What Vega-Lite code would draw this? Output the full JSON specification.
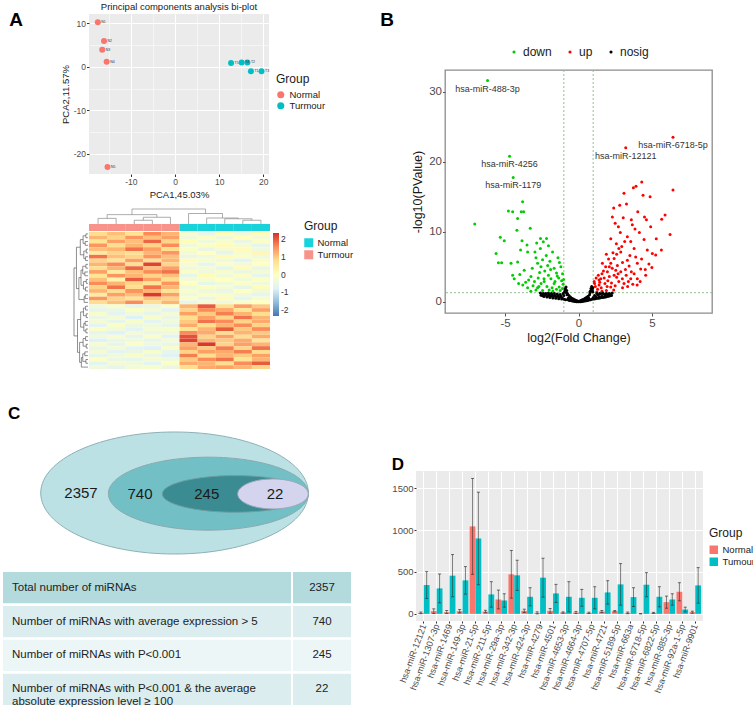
{
"$schema": "https://vega.github.io/schema/vega-lite/v6.json",
"background": "white",
"padding": {"left": 3, "top": 1, "right": 0, "bottom": 0},
"config": {
  "font": "Liberation Sans",
  "view": {"stroke": null},
  "axis": {"domain": false, "labelColor": "#4D4D4D", "tickColor": "#333333", "titleColor": "#1A1A1A", "titleFontWeight": "normal", "grid": false, "labelFont": "Liberation Sans", "titleFont": "Liberation Sans"},
  "legend": {"titleFontWeight": "normal", "titleColor": "#1A1A1A", "labelColor": "#1A1A1A", "titleFont": "Liberation Sans", "labelFont": "Liberation Sans", "layout": {"top": {"anchor": "middle"}}},
  "title": {"color": "#000000", "font": "Liberation Sans"}
},
"datasets": {
  "pca": [
    {"pc1": -17.5, "pc2": 10.2, "Group": "Normal", "id": "N1"},
    {"pc1": -16.1, "pc2": 5.9, "Group": "Normal", "id": "N2"},
    {"pc1": -16.5, "pc2": 3.9, "Group": "Normal", "id": "N3"},
    {"pc1": -15.5, "pc2": 1.15, "Group": "Normal", "id": "N4"},
    {"pc1": -15.3, "pc2": -23.0, "Group": "Normal", "id": "N5"},
    {"pc1": 12.7, "pc2": 0.85, "Group": "Turmour", "id": "T5"},
    {"pc1": 15.1, "pc2": 1.0, "Group": "Turmour", "id": "T4"},
    {"pc1": 16.4, "pc2": 1.0, "Group": "Turmour", "id": "T2"},
    {"pc1": 17.2, "pc2": -1.05, "Group": "Turmour", "id": "T1"},
    {"pc1": 19.6, "pc2": -1.05, "Group": "Turmour", "id": "T3"}
  ],
  "hm": [
    {"r":0,"c":1,"v":0.8},{"r":0,"c":2,"v":1.1},{"r":0,"c":3,"v":0.7},{"r":0,"c":4,"v":1.6},{"r":0,"c":5,"v":1.2},{"r":0,"c":6,"v":-0.2},{"r":0,"c":7,"v":-0.6},{"r":0,"c":8,"v":0.1},{"r":0,"c":9,"v":-0.4},{"r":0,"c":10,"v":0.1},
    {"r":1,"c":1,"v":1.2},{"r":1,"c":2,"v":0.9},{"r":1,"c":3,"v":1.5},{"r":1,"c":4,"v":1.1},{"r":1,"c":5,"v":1.4},{"r":1,"c":6,"v":-0.4},{"r":1,"c":7,"v":-0.1},{"r":1,"c":8,"v":-0.4},{"r":1,"c":9,"v":0.0},{"r":1,"c":10,"v":-0.3},
    {"r":2,"c":1,"v":0.7},{"r":2,"c":2,"v":1.4},{"r":2,"c":3,"v":1.1},{"r":2,"c":4,"v":1.9},{"r":2,"c":5,"v":0.9},{"r":2,"c":6,"v":0.1},{"r":2,"c":7,"v":-0.4},{"r":2,"c":8,"v":-0.2},{"r":2,"c":9,"v":-0.5},{"r":2,"c":10,"v":-0.1},
    {"r":3,"c":1,"v":1.5},{"r":3,"c":2,"v":0.8},{"r":3,"c":3,"v":1.2},{"r":3,"c":4,"v":0.9},{"r":3,"c":5,"v":1.6},{"r":3,"c":6,"v":-0.4},{"r":3,"c":7,"v":-0.1},{"r":3,"c":8,"v":0.1},{"r":3,"c":9,"v":-0.3},{"r":3,"c":10,"v":-0.6},
    {"r":4,"c":1,"v":1.1},{"r":4,"c":2,"v":1.2},{"r":4,"c":3,"v":1.8},{"r":4,"c":4,"v":1.4},{"r":4,"c":5,"v":0.8},{"r":4,"c":6,"v":-0.1},{"r":4,"c":7,"v":-0.5},{"r":4,"c":8,"v":-0.3},{"r":4,"c":9,"v":0.1},{"r":4,"c":10,"v":-0.4},
    {"r":5,"c":1,"v":0.5},{"r":5,"c":2,"v":0.9},{"r":5,"c":3,"v":0.8},{"r":5,"c":4,"v":1.2},{"r":5,"c":5,"v":1.5},{"r":5,"c":6,"v":-0.3},{"r":5,"c":7,"v":0.0},{"r":5,"c":8,"v":-0.6},{"r":5,"c":9,"v":-0.2},{"r":5,"c":10,"v":0.2},
    {"r":6,"c":1,"v":1.8},{"r":6,"c":2,"v":1.1},{"r":6,"c":3,"v":0.9},{"r":6,"c":4,"v":1.5},{"r":6,"c":5,"v":1.1},{"r":6,"c":6,"v":-0.5},{"r":6,"c":7,"v":-0.4},{"r":6,"c":8,"v":0.1},{"r":6,"c":9,"v":-0.1},{"r":6,"c":10,"v":-0.4},
    {"r":7,"c":1,"v":0.9},{"r":7,"c":2,"v":0.7},{"r":7,"c":3,"v":1.4},{"r":7,"c":4,"v":0.8},{"r":7,"c":5,"v":1.2},{"r":7,"c":6,"v":0.1},{"r":7,"c":7,"v":-0.2},{"r":7,"c":8,"v":-0.4},{"r":7,"c":9,"v":-0.7},{"r":7,"c":10,"v":-0.1},
    {"r":8,"c":1,"v":1.2},{"r":8,"c":2,"v":1.6},{"r":8,"c":3,"v":0.8},{"r":8,"c":4,"v":2.2},{"r":8,"c":5,"v":0.9},{"r":8,"c":6,"v":-0.2},{"r":8,"c":7,"v":-0.6},{"r":8,"c":8,"v":-0.1},{"r":8,"c":9,"v":-0.3},{"r":8,"c":10,"v":0.0},
    {"r":9,"c":1,"v":0.8},{"r":9,"c":2,"v":1.2},{"r":9,"c":3,"v":1.9},{"r":9,"c":4,"v":1.1},{"r":9,"c":5,"v":1.4},{"r":9,"c":6,"v":-0.4},{"r":9,"c":7,"v":-0.3},{"r":9,"c":8,"v":-0.6},{"r":9,"c":9,"v":0.1},{"r":9,"c":10,"v":-0.5},
    {"r":10,"c":1,"v":1.4},{"r":10,"c":2,"v":0.5},{"r":10,"c":3,"v":1.1},{"r":10,"c":4,"v":1.6},{"r":10,"c":5,"v":1.8},{"r":10,"c":6,"v":-0.1},{"r":10,"c":7,"v":-0.4},{"r":10,"c":8,"v":-0.2},{"r":10,"c":9,"v":-0.5},{"r":10,"c":10,"v":-0.3},
    {"r":11,"c":1,"v":0.7},{"r":11,"c":2,"v":1.5},{"r":11,"c":3,"v":1.2},{"r":11,"c":4,"v":0.9},{"r":11,"c":5,"v":1.1},{"r":11,"c":6,"v":-0.6},{"r":11,"c":7,"v":0.1},{"r":11,"c":8,"v":-0.4},{"r":11,"c":9,"v":-0.1},{"r":11,"c":10,"v":-0.6},
    {"r":12,"c":1,"v":1.1},{"r":12,"c":2,"v":0.3},{"r":12,"c":3,"v":2.0},{"r":12,"c":4,"v":1.4},{"r":12,"c":5,"v":0.8},{"r":12,"c":6,"v":-0.3},{"r":12,"c":7,"v":-0.2},{"r":12,"c":8,"v":0.0},{"r":12,"c":9,"v":-0.4},{"r":12,"c":10,"v":-0.1},
    {"r":13,"c":1,"v":1.6},{"r":13,"c":2,"v":1.2},{"r":13,"c":3,"v":0.9},{"r":13,"c":4,"v":0.7},{"r":13,"c":5,"v":1.5},{"r":13,"c":6,"v":0.0},{"r":13,"c":7,"v":-0.6},{"r":13,"c":8,"v":-0.4},{"r":13,"c":9,"v":-0.1},{"r":13,"c":10,"v":-0.4},
    {"r":14,"c":1,"v":0.9},{"r":14,"c":2,"v":1.8},{"r":14,"c":3,"v":0.8},{"r":14,"c":4,"v":1.8},{"r":14,"c":5,"v":1.2},{"r":14,"c":6,"v":-0.4},{"r":14,"c":7,"v":-0.1},{"r":14,"c":8,"v":-0.3},{"r":14,"c":9,"v":-0.6},{"r":14,"c":10,"v":0.1},
    {"r":15,"c":1,"v":1.2},{"r":15,"c":2,"v":0.8},{"r":15,"c":3,"v":1.5},{"r":15,"c":4,"v":1.2},{"r":15,"c":5,"v":0.7},{"r":15,"c":6,"v":-0.2},{"r":15,"c":7,"v":-0.4},{"r":15,"c":8,"v":-0.5},{"r":15,"c":9,"v":0.0},{"r":15,"c":10,"v":-0.4},
    {"r":16,"c":1,"v":0.5},{"r":16,"c":2,"v":1.4},{"r":16,"c":3,"v":1.1},{"r":16,"c":4,"v":2.3},{"r":16,"c":5,"v":1.4},{"r":16,"c":6,"v":-0.4},{"r":16,"c":7,"v":-0.1},{"r":16,"c":8,"v":-0.2},{"r":16,"c":9,"v":-0.4},{"r":16,"c":10,"v":-0.6},
    {"r":17,"c":1,"v":1.5},{"r":17,"c":2,"v":0.9},{"r":17,"c":3,"v":0.7},{"r":17,"c":4,"v":1.1},{"r":17,"c":5,"v":0.9},{"r":17,"c":6,"v":-0.1},{"r":17,"c":7,"v":-0.5},{"r":17,"c":8,"v":0.1},{"r":17,"c":9,"v":-0.6},{"r":17,"c":10,"v":-0.2},
    {"r":18,"c":1,"v":0.8},{"r":18,"c":2,"v":1.1},{"r":18,"c":3,"v":1.6},{"r":18,"c":4,"v":0.8},{"r":18,"c":5,"v":1.2},{"r":18,"c":6,"v":-0.6},{"r":18,"c":7,"v":-0.3},{"r":18,"c":8,"v":-0.4},{"r":18,"c":9,"v":-0.1},{"r":18,"c":10,"v":0.0},
    {"r":19,"c":1,"v":-0.4},{"r":19,"c":2,"v":-0.2},{"r":19,"c":3,"v":-0.6},{"r":19,"c":4,"v":-0.5},{"r":19,"c":5,"v":-0.1},{"r":19,"c":6,"v":1.2},{"r":19,"c":7,"v":2.0},{"r":19,"c":8,"v":0.8},{"r":19,"c":9,"v":1.4},{"r":19,"c":10,"v":1.0},
    {"r":20,"c":1,"v":-0.6},{"r":20,"c":2,"v":-0.5},{"r":20,"c":3,"v":-0.1},{"r":20,"c":4,"v":-0.3},{"r":20,"c":5,"v":-0.7},{"r":20,"c":6,"v":0.9},{"r":20,"c":7,"v":1.6},{"r":20,"c":8,"v":1.3},{"r":20,"c":9,"v":0.7},{"r":20,"c":10,"v":1.4},
    {"r":21,"c":1,"v":-0.2},{"r":21,"c":2,"v":-0.7},{"r":21,"c":3,"v":-0.4},{"r":21,"c":4,"v":-0.6},{"r":21,"c":5,"v":-0.3},{"r":21,"c":6,"v":1.4},{"r":21,"c":7,"v":1.0},{"r":21,"c":8,"v":1.7},{"r":21,"c":9,"v":1.2},{"r":21,"c":10,"v":0.8},
    {"r":22,"c":1,"v":-0.5},{"r":22,"c":2,"v":-0.3},{"r":22,"c":3,"v":-0.8},{"r":22,"c":4,"v":-0.2},{"r":22,"c":5,"v":-0.5},{"r":22,"c":6,"v":0.8},{"r":22,"c":7,"v":1.4},{"r":22,"c":8,"v":0.9},{"r":22,"c":9,"v":1.8},{"r":22,"c":10,"v":1.2},
    {"r":23,"c":1,"v":-0.3},{"r":23,"c":2,"v":-0.6},{"r":23,"c":3,"v":-0.2},{"r":23,"c":4,"v":-0.7},{"r":23,"c":5,"v":-0.4},{"r":23,"c":6,"v":1.0},{"r":23,"c":7,"v":1.8},{"r":23,"c":8,"v":1.6},{"r":23,"c":9,"v":0.9},{"r":23,"c":10,"v":1.3},
    {"r":24,"c":1,"v":-0.7},{"r":24,"c":2,"v":-0.1},{"r":24,"c":3,"v":-0.5},{"r":24,"c":4,"v":-0.4},{"r":24,"c":5,"v":-0.6},{"r":24,"c":6,"v":1.3},{"r":24,"c":7,"v":0.8},{"r":24,"c":8,"v":1.2},{"r":24,"c":9,"v":1.6},{"r":24,"c":10,"v":0.9},
    {"r":25,"c":1,"v":-0.1},{"r":25,"c":2,"v":-0.4},{"r":25,"c":3,"v":-0.7},{"r":25,"c":4,"v":-0.3},{"r":25,"c":5,"v":-0.2},{"r":25,"c":6,"v":0.7},{"r":25,"c":7,"v":1.2},{"r":25,"c":8,"v":2.0},{"r":25,"c":9,"v":1.0},{"r":25,"c":10,"v":1.6},
    {"r":26,"c":1,"v":-0.6},{"r":26,"c":2,"v":-0.8},{"r":26,"c":3,"v":-0.3},{"r":26,"c":4,"v":-0.5},{"r":26,"c":5,"v":-0.4},{"r":26,"c":6,"v":1.6},{"r":26,"c":7,"v":1.3},{"r":26,"c":8,"v":0.8},{"r":26,"c":9,"v":1.2},{"r":26,"c":10,"v":1.0},
    {"r":27,"c":1,"v":-0.4},{"r":27,"c":2,"v":-0.2},{"r":27,"c":3,"v":-0.6},{"r":27,"c":4,"v":-0.1},{"r":27,"c":5,"v":-0.7},{"r":27,"c":6,"v":2.1},{"r":27,"c":7,"v":0.9},{"r":27,"c":8,"v":1.4},{"r":27,"c":9,"v":0.8},{"r":27,"c":10,"v":1.3},
    {"r":28,"c":1,"v":-0.8},{"r":28,"c":2,"v":-0.5},{"r":28,"c":3,"v":-0.4},{"r":28,"c":4,"v":-0.6},{"r":28,"c":5,"v":-0.3},{"r":28,"c":6,"v":2.2},{"r":28,"c":7,"v":1.2},{"r":28,"c":8,"v":1.0},{"r":28,"c":9,"v":1.3},{"r":28,"c":10,"v":0.7},
    {"r":29,"c":1,"v":-0.2},{"r":29,"c":2,"v":-0.6},{"r":29,"c":3,"v":-0.1},{"r":29,"c":4,"v":-0.4},{"r":29,"c":5,"v":-0.5},{"r":29,"c":6,"v":1.2},{"r":29,"c":7,"v":2.3},{"r":29,"c":8,"v":0.9},{"r":29,"c":9,"v":1.4},{"r":29,"c":10,"v":1.2},
    {"r":30,"c":1,"v":-0.5},{"r":30,"c":2,"v":-0.3},{"r":30,"c":3,"v":-0.7},{"r":30,"c":4,"v":-0.8},{"r":30,"c":5,"v":-0.2},{"r":30,"c":6,"v":1.4},{"r":30,"c":7,"v":1.0},{"r":30,"c":8,"v":1.7},{"r":30,"c":9,"v":0.9},{"r":30,"c":10,"v":1.8},
    {"r":31,"c":1,"v":-0.3},{"r":31,"c":2,"v":-0.7},{"r":31,"c":3,"v":-0.5},{"r":31,"c":4,"v":-0.2},{"r":31,"c":5,"v":-0.6},{"r":31,"c":6,"v":0.9},{"r":31,"c":7,"v":1.4},{"r":31,"c":8,"v":1.3},{"r":31,"c":9,"v":1.7},{"r":31,"c":10,"v":0.8},
    {"r":32,"c":1,"v":-0.6},{"r":32,"c":2,"v":-0.4},{"r":32,"c":3,"v":-0.2},{"r":32,"c":4,"v":-0.5},{"r":32,"c":5,"v":-0.8},{"r":32,"c":6,"v":1.7},{"r":32,"c":7,"v":0.8},{"r":32,"c":8,"v":1.2},{"r":32,"c":9,"v":1.0},{"r":32,"c":10,"v":1.4},
    {"r":33,"c":1,"v":-0.1},{"r":33,"c":2,"v":-0.5},{"r":33,"c":3,"v":-0.6},{"r":33,"c":4,"v":-0.3},{"r":33,"c":5,"v":-0.4},{"r":33,"c":6,"v":1.0},{"r":33,"c":7,"v":1.6},{"r":33,"c":8,"v":1.8},{"r":33,"c":9,"v":0.7},{"r":33,"c":10,"v":1.2},
    {"r":34,"c":1,"v":-0.7},{"r":34,"c":2,"v":-0.3},{"r":34,"c":3,"v":-0.4},{"r":34,"c":4,"v":-0.7},{"r":34,"c":5,"v":-0.1},{"r":34,"c":6,"v":1.3},{"r":34,"c":7,"v":1.2},{"r":34,"c":8,"v":0.8},{"r":34,"c":9,"v":1.6},{"r":34,"c":10,"v":2.0},
    {"r":35,"c":1,"v":-0.4},{"r":35,"c":2,"v":-0.6},{"r":35,"c":3,"v":-0.3},{"r":35,"c":4,"v":-0.2},{"r":35,"c":5,"v":-0.5},{"r":35,"c":6,"v":0.8},{"r":35,"c":7,"v":1.3},{"r":35,"c":8,"v":1.4},{"r":35,"c":9,"v":1.2},{"r":35,"c":10,"v":0.9}
  ],
  "ann": [
    {"c":1,"grp":"Turmour"},{"c":2,"grp":"Turmour"},{"c":3,"grp":"Turmour"},{"c":4,"grp":"Turmour"},{"c":5,"grp":"Turmour"},
    {"c":6,"grp":"Normal"},{"c":7,"grp":"Normal"},{"c":8,"grp":"Normal"},{"c":9,"grp":"Normal"},{"c":10,"grp":"Normal"}
  ],
  "dtop": [
    {"xa":0.5,"xb":1.5,"h":1.5,"ha":0,"hb":0},
    {"xa":2.5,"xb":3.5,"h":1.0,"ha":0,"hb":0},
    {"xa":3.0,"xb":4.5,"h":1.8,"ha":1.0,"hb":0},
    {"xa":1.0,"xb":3.75,"h":2.5,"ha":1.5,"hb":1.8},
    {"xa":8.5,"xb":9.5,"h":1.0,"ha":0,"hb":0},
    {"xa":7.5,"xb":9.0,"h":1.4,"ha":0,"hb":1.0},
    {"xa":6.5,"xb":8.25,"h":1.6,"ha":0,"hb":1.4},
    {"xa":5.5,"xb":7.375,"h":2.8,"ha":0,"hb":1.6},
    {"xa":2.375,"xb":6.44,"h":4.0,"ha":2.5,"hb":2.8}
  ],
  "dleft": [
    {"a":0.5,"b":1.5,"h":0.6,"ha":0,"hb":0},
    {"a":2.5,"b":3.5,"h":0.8,"ha":0,"hb":0},
    {"a":4.5,"b":5.5,"h":0.5,"ha":0,"hb":0},
    {"a":6.5,"b":7.5,"h":0.7,"ha":0,"hb":0},
    {"a":8.5,"b":9.5,"h":0.6,"ha":0,"hb":0},
    {"a":10.5,"b":11.5,"h":0.9,"ha":0,"hb":0},
    {"a":12.5,"b":13.5,"h":0.5,"ha":0,"hb":0},
    {"a":14.5,"b":15.5,"h":0.7,"ha":0,"hb":0},
    {"a":16.5,"b":17.5,"h":0.8,"ha":0,"hb":0},
    {"a":1.0,"b":3.0,"h":1.4,"ha":0.6,"hb":0.8},
    {"a":5.0,"b":7.0,"h":1.2,"ha":0.5,"hb":0.7},
    {"a":9.0,"b":11.0,"h":1.5,"ha":0.6,"hb":0.9},
    {"a":13.0,"b":15.0,"h":1.3,"ha":0.5,"hb":0.7},
    {"a":17.0,"b":18.5,"h":1.1,"ha":0.8,"hb":0},
    {"a":2.0,"b":6.0,"h":2.2,"ha":1.4,"hb":1.2},
    {"a":10.0,"b":14.0,"h":2.0,"ha":1.5,"hb":1.3},
    {"a":12.0,"b":17.75,"h":2.6,"ha":2.0,"hb":1.1},
    {"a":4.0,"b":14.875,"h":3.3,"ha":2.2,"hb":2.6},
    {"a":19.5,"b":20.5,"h":0.7,"ha":0,"hb":0},
    {"a":21.5,"b":22.5,"h":0.5,"ha":0,"hb":0},
    {"a":23.5,"b":24.5,"h":0.8,"ha":0,"hb":0},
    {"a":25.5,"b":26.5,"h":0.6,"ha":0,"hb":0},
    {"a":27.5,"b":28.5,"h":0.7,"ha":0,"hb":0},
    {"a":29.5,"b":30.5,"h":0.5,"ha":0,"hb":0},
    {"a":31.5,"b":32.5,"h":0.9,"ha":0,"hb":0},
    {"a":33.5,"b":34.5,"h":0.6,"ha":0,"hb":0},
    {"a":20.0,"b":22.0,"h":1.3,"ha":0.7,"hb":0.5},
    {"a":24.0,"b":26.0,"h":1.2,"ha":0.8,"hb":0.6},
    {"a":28.0,"b":30.0,"h":1.4,"ha":0.7,"hb":0.5},
    {"a":32.0,"b":34.0,"h":1.5,"ha":0.9,"hb":0.6},
    {"a":33.0,"b":35.5,"h":1.9,"ha":1.5,"hb":0},
    {"a":21.0,"b":25.0,"h":2.1,"ha":1.3,"hb":1.2},
    {"a":29.0,"b":34.25,"h":2.4,"ha":1.4,"hb":1.9},
    {"a":23.0,"b":31.625,"h":3.0,"ha":2.1,"hb":2.4},
    {"a":9.44,"b":27.31,"h":4.0,"ha":3.3,"hb":3.0}
  ],
  "volcano": [
    {"x":-6.2,"y":31.6,"g":"down","lab":"hsa-miR-488-3p"},{"x":-4.7,"y":20.8,"g":"down","lab":"hsa-miR-4256"},{"x":-4.45,"y":17.75,"g":"down","lab":"hsa-miR-1179"},
    {"x":-7.07,"y":11.1,"g":"down"},{"x":-3.81,"y":14.3,"g":"down"},{"x":-4.78,"y":12.95,"g":"down"},{"x":-4.49,"y":12.86,"g":"down"},{"x":-3.9,"y":12.86,"g":"down"},{"x":-3.74,"y":12.86,"g":"down"},{"x":-4.15,"y":11.9,"g":"down"},{"x":-3.29,"y":10.5,"g":"down"},{"x":-4.2,"y":10.2,"g":"down"},{"x":-5.33,"y":9.2,"g":"down"},{"x":-5.06,"y":8.7,"g":"down"},{"x":-3.85,"y":8.7,"g":"down"},{"x":-3.51,"y":8.1,"g":"down"},{"x":-2.59,"y":9.05,"g":"down"},{"x":-2.18,"y":9.05,"g":"down"},{"x":-2.4,"y":8.57,"g":"down"},{"x":-5.62,"y":6.9,"g":"down"},{"x":-5.46,"y":5.57,"g":"down"},{"x":-5.24,"y":5.57,"g":"down"},{"x":-4.6,"y":5.5,"g":"down"},{"x":-3.47,"y":7.1,"g":"down"},{"x":-2.97,"y":7.1,"g":"down"},{"x":-1.77,"y":7.1,"g":"down"},{"x":-4.15,"y":5.7,"g":"down"},{"x":-4.49,"y":3.8,"g":"down"},{"x":-4.38,"y":3.3,"g":"down"},{"x":-4.08,"y":2.6,"g":"down"},{"x":-3.7,"y":4.5,"g":"down"},{"x":-3.24,"y":3.6,"g":"down"},{"x":-2.79,"y":5.5,"g":"down"},{"x":-2.56,"y":5.0,"g":"down"},{"x":-2.1,"y":5.2,"g":"down"},{"x":-1.66,"y":4.8,"g":"down"},{"x":-1.2,"y":5.0,"g":"down"},{"x":-1.09,"y":4.0,"g":"down"},{"x":-3.0,"y":2.9,"g":"down"},{"x":-2.79,"y":2.0,"g":"down"},{"x":-2.34,"y":2.9,"g":"down"},{"x":-1.88,"y":3.3,"g":"down"},{"x":-1.66,"y":2.6,"g":"down"},{"x":-1.32,"y":2.1,"g":"down"},{"x":-3.47,"y":2.0,"g":"down"},{"x":-3.8,"y":2.4,"g":"down"},
    {"x":-2.9,"y":6.3,"g":"down"},{"x":-2.45,"y":6.0,"g":"down"},{"x":-2.2,"y":6.6,"g":"down"},{"x":-1.95,"y":5.8,"g":"down"},{"x":-2.65,"y":4.2,"g":"down"},{"x":-2.3,"y":4.4,"g":"down"},{"x":-1.5,"y":4.1,"g":"down"},{"x":-1.35,"y":3.4,"g":"down"},{"x":-1.15,"y":3.0,"g":"down"},{"x":-1.05,"y":2.5,"g":"down"},{"x":-2.05,"y":3.8,"g":"down"},{"x":-2.75,"y":3.4,"g":"down"},{"x":-3.4,"y":3.1,"g":"down"},{"x":-3.1,"y":2.3,"g":"down"},{"x":-2.55,"y":2.6,"g":"down"},{"x":-2.15,"y":2.2,"g":"down"},{"x":-1.8,"y":2.0,"g":"down"},{"x":-1.5,"y":1.8,"g":"down"},{"x":-1.25,"y":1.6,"g":"down"},{"x":-2.45,"y":1.6,"g":"down"},{"x":-2.9,"y":1.7,"g":"down"},{"x":-3.25,"y":1.5,"g":"down"},{"x":-1.75,"y":1.5,"g":"down"},{"x":-1.1,"y":1.9,"g":"down"},{"x":-1.6,"y":2.9,"g":"down"},{"x":-2.0,"y":1.7,"g":"down"},{"x":-3.6,"y":2.8,"g":"down"},{"x":-4.0,"y":3.9,"g":"down"},{"x":-3.95,"y":7.4,"g":"down"},{"x":-2.05,"y":8.0,"g":"down"},{"x":-1.3,"y":5.6,"g":"down"},{"x":-1.4,"y":6.3,"g":"down"},{"x":-2.6,"y":7.6,"g":"down"},{"x":-3.15,"y":4.8,"g":"down"},{"x":-2.85,"y":8.4,"g":"down"},{"x":-1.9,"y":4.6,"g":"down"},{"x":-1.45,"y":3.7,"g":"down"},{"x":-1.02,"y":3.2,"g":"down"},{"x":-2.35,"y":3.3,"g":"down"},{"x":-2.7,"y":2.2,"g":"down"},
    {"x":6.44,"y":23.5,"g":"up","lab":"hsa-miR-6718-5p"},{"x":3.22,"y":22.0,"g":"up","lab":"hsa-miR-12121"},
    {"x":3.74,"y":16.3,"g":"up"},{"x":3.92,"y":16.5,"g":"up"},{"x":4.31,"y":17.1,"g":"up"},{"x":6.44,"y":15.95,"g":"up"},{"x":3.1,"y":15.5,"g":"up"},{"x":4.4,"y":15.2,"g":"up"},{"x":4.88,"y":15.0,"g":"up"},{"x":3.27,"y":13.95,"g":"up"},{"x":2.81,"y":13.8,"g":"up"},{"x":2.31,"y":12.1,"g":"up"},{"x":4.04,"y":12.86,"g":"up"},{"x":4.5,"y":12.1,"g":"up"},{"x":4.63,"y":11.7,"g":"up"},{"x":3.6,"y":11.7,"g":"up"},{"x":3.67,"y":11.0,"g":"up"},{"x":2.72,"y":10.7,"g":"up"},{"x":4.92,"y":10.7,"g":"up"},{"x":5.67,"y":11.8,"g":"up"},{"x":5.9,"y":12.4,"g":"up"},{"x":6.24,"y":9.6,"g":"up"},{"x":3.33,"y":9.3,"g":"up"},{"x":3.15,"y":8.6,"g":"up"},{"x":3.56,"y":8.6,"g":"up"},{"x":4.47,"y":8.9,"g":"up"},{"x":2.58,"y":8.3,"g":"up"},{"x":3.79,"y":7.6,"g":"up"},{"x":4.69,"y":7.4,"g":"up"},{"x":5.65,"y":7.4,"g":"up"},{"x":5.03,"y":6.9,"g":"up"},{"x":5.26,"y":6.7,"g":"up"},{"x":4.01,"y":5.5,"g":"up"},{"x":4.24,"y":4.7,"g":"up"},{"x":3.33,"y":5.95,"g":"up"},{"x":2.88,"y":7.1,"g":"up"},{"x":2.43,"y":6.2,"g":"up"},{"x":2.2,"y":5.5,"g":"up"},{"x":1.63,"y":5.5,"g":"up"},{"x":1.97,"y":4.3,"g":"up"},{"x":1.52,"y":3.3,"g":"up"},{"x":2.43,"y":3.8,"g":"up"},{"x":2.88,"y":4.3,"g":"up"},{"x":3.56,"y":3.3,"g":"up"},{"x":4.01,"y":3.3,"g":"up"},{"x":1.07,"y":2.9,"g":"up"},{"x":1.4,"y":2.4,"g":"up"},{"x":2.2,"y":2.1,"g":"up"},{"x":3.1,"y":2.6,"g":"up"},{"x":2.65,"y":5.2,"g":"up"},{"x":2.54,"y":4.5,"g":"up"},{"x":2.99,"y":3.3,"g":"up"},{"x":3.79,"y":4.0,"g":"up"},{"x":4.58,"y":3.8,"g":"up"},
    {"x":2.75,"y":7.6,"g":"up"},{"x":2.95,"y":7.9,"g":"up"},{"x":2.6,"y":6.8,"g":"up"},{"x":2.35,"y":7.0,"g":"up"},{"x":2.05,"y":6.1,"g":"up"},{"x":1.85,"y":5.0,"g":"up"},{"x":1.7,"y":4.4,"g":"up"},{"x":1.35,"y":3.8,"g":"up"},{"x":1.2,"y":3.4,"g":"up"},{"x":1.15,"y":2.2,"g":"up"},{"x":1.3,"y":1.8,"g":"up"},{"x":1.55,"y":2.0,"g":"up"},{"x":1.8,"y":2.6,"g":"up"},{"x":2.0,"y":3.0,"g":"up"},{"x":2.25,"y":2.7,"g":"up"},{"x":2.5,"y":2.3,"g":"up"},{"x":2.75,"y":2.9,"g":"up"},{"x":3.0,"y":2.0,"g":"up"},{"x":3.35,"y":2.2,"g":"up"},{"x":3.7,"y":2.5,"g":"up"},{"x":4.2,"y":2.9,"g":"up"},{"x":1.9,"y":1.6,"g":"up"},{"x":2.4,"y":1.7,"g":"up"},{"x":1.6,"y":1.5,"g":"up"},{"x":1.25,"y":1.4,"g":"up"},{"x":2.1,"y":3.6,"g":"up"},{"x":2.3,"y":4.8,"g":"up"},{"x":2.7,"y":4.0,"g":"up"},{"x":3.2,"y":4.6,"g":"up"},{"x":3.45,"y":5.1,"g":"up"},{"x":3.0,"y":5.6,"g":"up"},{"x":2.1,"y":5.0,"g":"up"},{"x":1.75,"y":3.4,"g":"up"},{"x":1.45,"y":2.8,"g":"up"},{"x":3.9,"y":6.4,"g":"up"},{"x":4.3,"y":6.1,"g":"up"},{"x":4.55,"y":4.6,"g":"up"},{"x":3.5,"y":6.6,"g":"up"},{"x":2.85,"y":9.9,"g":"up"},{"x":3.05,"y":12.0,"g":"up"},{"x":2.5,"y":11.2,"g":"up"},{"x":3.85,"y":10.4,"g":"up"},{"x":4.15,"y":9.9,"g":"up"},{"x":5.3,"y":9.0,"g":"up"},{"x":4.8,"y":5.4,"g":"up"},{"x":5.0,"y":4.9,"g":"up"},{"x":3.25,"y":3.8,"g":"up"},{"x":3.6,"y":4.3,"g":"up"},{"x":1.95,"y":2.2,"g":"up"},{"x":2.6,"y":3.5,"g":"up"},{"x":4.0,"y":2.4,"g":"up"},{"x":3.4,"y":2.9,"g":"up"},{"x":1.1,"y":2.6,"g":"up"},{"x":1.4,"y":3.1,"g":"up"},{"x":1.6,"y":4.0,"g":"up"},{"x":1.9,"y":6.8,"g":"up"},{"x":2.2,"y":9.0,"g":"up"},{"x":2.4,"y":13.4,"g":"up"},
    {"x":-2.6,"y":1.25,"g":"nosig"},{"x":-2.5,"y":1.1,"g":"nosig"},{"x":-2.4,"y":1.2,"g":"nosig"},{"x":-2.3,"y":0.95,"g":"nosig"},{"x":-2.2,"y":1.1,"g":"nosig"},{"x":-2.1,"y":0.85,"g":"nosig"},{"x":-2.0,"y":1.0,"g":"nosig"},{"x":-1.9,"y":0.8,"g":"nosig"},{"x":-1.8,"y":1.0,"g":"nosig"},{"x":-1.7,"y":0.75,"g":"nosig"},{"x":-1.6,"y":0.9,"g":"nosig"},{"x":-1.5,"y":0.7,"g":"nosig"},{"x":-1.4,"y":0.85,"g":"nosig"},{"x":-1.3,"y":0.6,"g":"nosig"},{"x":-1.2,"y":0.8,"g":"nosig"},{"x":-1.1,"y":0.55,"g":"nosig"},{"x":-1.0,"y":0.9,"g":"nosig"},{"x":-0.95,"y":1.4,"g":"nosig"},{"x":-0.9,"y":1.9,"g":"nosig"},{"x":-0.85,"y":2.1,"g":"nosig"},{"x":-0.8,"y":1.6,"g":"nosig"},{"x":-0.75,"y":1.2,"g":"nosig"},{"x":-0.7,"y":0.5,"g":"nosig"},{"x":-0.65,"y":0.9,"g":"nosig"},{"x":-0.6,"y":0.4,"g":"nosig"},{"x":-0.55,"y":0.7,"g":"nosig"},{"x":-0.5,"y":0.3,"g":"nosig"},{"x":-0.45,"y":0.5,"g":"nosig"},{"x":-0.4,"y":0.25,"g":"nosig"},{"x":-0.35,"y":0.4,"g":"nosig"},{"x":-0.3,"y":0.15,"g":"nosig"},{"x":-0.25,"y":0.3,"g":"nosig"},{"x":-0.2,"y":0.1,"g":"nosig"},{"x":-0.15,"y":0.2,"g":"nosig"},{"x":-0.1,"y":0.05,"g":"nosig"},{"x":-0.05,"y":0.1,"g":"nosig"},{"x":0.0,"y":0.02,"g":"nosig"},{"x":0.05,"y":0.08,"g":"nosig"},{"x":0.1,"y":0.05,"g":"nosig"},{"x":0.15,"y":0.18,"g":"nosig"},{"x":0.2,"y":0.1,"g":"nosig"},{"x":0.25,"y":0.28,"g":"nosig"},{"x":0.3,"y":0.15,"g":"nosig"},{"x":0.35,"y":0.38,"g":"nosig"},{"x":0.4,"y":0.22,"g":"nosig"},{"x":0.45,"y":0.5,"g":"nosig"},{"x":0.5,"y":0.3,"g":"nosig"},{"x":0.55,"y":0.65,"g":"nosig"},{"x":0.6,"y":0.4,"g":"nosig"},{"x":0.65,"y":0.8,"g":"nosig"},{"x":0.7,"y":0.5,"g":"nosig"},{"x":0.75,"y":1.0,"g":"nosig"},{"x":0.8,"y":1.5,"g":"nosig"},{"x":0.85,"y":1.9,"g":"nosig"},{"x":0.9,"y":2.2,"g":"nosig"},{"x":0.95,"y":1.7,"g":"nosig"},{"x":1.0,"y":0.6,"g":"nosig"},{"x":1.1,"y":0.9,"g":"nosig"},{"x":1.2,"y":0.65,"g":"nosig"},{"x":1.3,"y":1.0,"g":"nosig"},{"x":1.4,"y":0.75,"g":"nosig"},{"x":1.5,"y":1.1,"g":"nosig"},{"x":1.6,"y":0.8,"g":"nosig"},{"x":1.7,"y":1.15,"g":"nosig"},{"x":1.8,"y":0.85,"g":"nosig"},{"x":1.9,"y":1.2,"g":"nosig"},{"x":2.0,"y":0.95,"g":"nosig"},{"x":2.1,"y":1.2,"g":"nosig"},{"x":2.2,"y":1.0,"g":"nosig"},{"x":2.3,"y":1.25,"g":"nosig"},
    {"x":-2.55,"y":0.95,"g":"nosig"},{"x":-2.35,"y":0.75,"g":"nosig"},{"x":-2.15,"y":0.7,"g":"nosig"},{"x":-1.95,"y":0.6,"g":"nosig"},{"x":-1.75,"y":0.55,"g":"nosig"},{"x":-1.55,"y":0.5,"g":"nosig"},{"x":-1.35,"y":0.45,"g":"nosig"},{"x":-1.15,"y":0.4,"g":"nosig"},{"x":-0.98,"y":0.35,"g":"nosig"},{"x":-0.88,"y":0.3,"g":"nosig"},{"x":-0.78,"y":1.0,"g":"nosig"},{"x":-0.72,"y":0.3,"g":"nosig"},{"x":-0.62,"y":0.2,"g":"nosig"},{"x":-0.52,"y":0.18,"g":"nosig"},{"x":-0.42,"y":0.12,"g":"nosig"},{"x":-0.32,"y":0.08,"g":"nosig"},{"x":-0.22,"y":0.05,"g":"nosig"},{"x":-0.12,"y":0.02,"g":"nosig"},{"x":0.12,"y":0.02,"g":"nosig"},{"x":0.22,"y":0.04,"g":"nosig"},{"x":0.32,"y":0.07,"g":"nosig"},{"x":0.42,"y":0.1,"g":"nosig"},{"x":0.52,"y":0.15,"g":"nosig"},{"x":0.62,"y":0.2,"g":"nosig"},{"x":0.72,"y":0.25,"g":"nosig"},{"x":0.82,"y":0.3,"g":"nosig"},{"x":0.92,"y":0.35,"g":"nosig"},{"x":1.05,"y":0.4,"g":"nosig"},{"x":1.15,"y":0.45,"g":"nosig"},{"x":1.25,"y":0.5,"g":"nosig"},{"x":1.35,"y":0.5,"g":"nosig"},{"x":1.45,"y":0.55,"g":"nosig"},{"x":1.55,"y":0.6,"g":"nosig"},{"x":1.65,"y":0.6,"g":"nosig"},{"x":1.75,"y":0.65,"g":"nosig"},{"x":1.85,"y":0.7,"g":"nosig"},{"x":1.95,"y":0.75,"g":"nosig"},{"x":2.05,"y":0.8,"g":"nosig"},{"x":2.15,"y":0.85,"g":"nosig"},{"x":2.25,"y":0.9,"g":"nosig"},{"x":-0.92,"y":1.7,"g":"nosig"},{"x":-0.82,"y":1.3,"g":"nosig"},{"x":0.78,"y":1.3,"g":"nosig"},{"x":0.88,"y":1.6,"g":"nosig"},{"x":0.98,"y":2.0,"g":"nosig"},{"x":-1.05,"y":1.2,"g":"nosig"},{"x":0.97,"y":1.4,"g":"nosig"},{"x":-2.45,"y":0.85,"g":"nosig"},{"x":-2.25,"y":1.2,"g":"nosig"},{"x":-2.05,"y":1.25,"g":"nosig"},{"x":-1.85,"y":1.2,"g":"nosig"},{"x":-1.65,"y":1.2,"g":"nosig"},{"x":-1.45,"y":1.1,"g":"nosig"},{"x":-1.25,"y":1.05,"g":"nosig"},{"x":1.25,"y":1.2,"g":"nosig"},{"x":1.45,"y":1.2,"g":"nosig"},{"x":1.65,"y":1.25,"g":"nosig"},{"x":1.85,"y":1.1,"g":"nosig"},{"x":2.05,"y":1.1,"g":"nosig"}
  ],
  "venn": [
    {"k":1,"u":0,"v":0,"n":"2357","tu":-0.699},
    {"k":2,"u":0.253,"v":-0.005,"n":"740","tu":-0.258},
    {"k":3,"u":0.454,"v":-0.007,"n":"245","tu":0.241},
    {"k":4,"u":0.736,"v":-0.007,"n":"22","tu":0.751}
  ],
  "tbl": [
    {"row":1,"label":"Total number of miRNAs","num":"2357"},
    {"row":2,"label":"Number of miRNAs with  average expression > 5","num":"740"},
    {"row":3,"label":"Number of miRNAs with P<0.001","num":"245"},
    {"row":4,"label":"Number of miRNAs with P<0.001 & the average\nabsolute expression level ≥ 100","num":"22"}
  ],
  "bars": [
    {"m":"hsa-miR-12121","g":"Normal","v":12,"lo":2,"hi":22},{"m":"hsa-miR-12121","g":"Tumour","v":344,"lo":184,"hi":504},
    {"m":"hsa-miR-1307-3p","g":"Normal","v":32,"lo":4,"hi":60},{"m":"hsa-miR-1307-3p","g":"Tumour","v":304,"lo":132,"hi":476},
    {"m":"hsa-miR-1469","g":"Normal","v":20,"lo":5,"hi":40},{"m":"hsa-miR-1469","g":"Tumour","v":456,"lo":204,"hi":708},
    {"m":"hsa-miR-149-3p","g":"Normal","v":32,"lo":12,"hi":52},{"m":"hsa-miR-149-3p","g":"Tumour","v":400,"lo":236,"hi":564},
    {"m":"hsa-miR-21-5p","g":"Normal","v":1044,"lo":472,"hi":1616},{"m":"hsa-miR-21-5p","g":"Tumour","v":900,"lo":348,"hi":1452},
    {"m":"hsa-miR-211-5p","g":"Normal","v":28,"lo":13,"hi":43},{"m":"hsa-miR-211-5p","g":"Tumour","v":232,"lo":80,"hi":384},
    {"m":"hsa-miR-29a-3p","g":"Normal","v":172,"lo":60,"hi":284},{"m":"hsa-miR-29a-3p","g":"Tumour","v":160,"lo":80,"hi":240},
    {"m":"hsa-miR-342-3p","g":"Normal","v":472,"lo":188,"hi":756},{"m":"hsa-miR-342-3p","g":"Tumour","v":460,"lo":280,"hi":640},
    {"m":"hsa-miR-424-3p","g":"Normal","v":36,"lo":16,"hi":56},{"m":"hsa-miR-424-3p","g":"Tumour","v":204,"lo":96,"hi":312},
    {"m":"hsa-miR-4279","g":"Normal","v":12,"lo":0,"hi":24},{"m":"hsa-miR-4279","g":"Tumour","v":432,"lo":200,"hi":664},
    {"m":"hsa-miR-4501","g":"Normal","v":36,"lo":8,"hi":64},{"m":"hsa-miR-4501","g":"Tumour","v":244,"lo":136,"hi":352},
    {"m":"hsa-miR-4653-3p","g":"Normal","v":16,"lo":8,"hi":24},{"m":"hsa-miR-4653-3p","g":"Tumour","v":204,"lo":24,"hi":384},
    {"m":"hsa-miR-4664-3p","g":"Normal","v":16,"lo":4,"hi":28},{"m":"hsa-miR-4664-3p","g":"Tumour","v":192,"lo":92,"hi":292},
    {"m":"hsa-miR-4707-5p","g":"Normal","v":12,"lo":4,"hi":20},{"m":"hsa-miR-4707-5p","g":"Tumour","v":192,"lo":60,"hi":324},
    {"m":"hsa-miR-4721","g":"Normal","v":28,"lo":16,"hi":40},{"m":"hsa-miR-4721","g":"Tumour","v":256,"lo":116,"hi":396},
    {"m":"hsa-miR-5189-5p","g":"Normal","v":32,"lo":24,"hi":40},{"m":"hsa-miR-5189-5p","g":"Tumour","v":352,"lo":104,"hi":600},
    {"m":"hsa-miR-663a","g":"Normal","v":12,"lo":2,"hi":22},{"m":"hsa-miR-663a","g":"Tumour","v":200,"lo":88,"hi":312},
    {"m":"hsa-miR-6718-5p","g":"Normal","v":2,"lo":0,"hi":4},{"m":"hsa-miR-6718-5p","g":"Tumour","v":348,"lo":204,"hi":492},
    {"m":"hsa-miR-6822-5p","g":"Normal","v":12,"lo":6,"hi":18},{"m":"hsa-miR-6822-5p","g":"Tumour","v":204,"lo":84,"hi":324},
    {"m":"hsa-miR-885-3p","g":"Normal","v":140,"lo":68,"hi":212},{"m":"hsa-miR-885-3p","g":"Tumour","v":172,"lo":104,"hi":240},
    {"m":"hsa-miR-92a-1-5p","g":"Normal","v":264,"lo":156,"hi":372},{"m":"hsa-miR-92a-1-5p","g":"Tumour","v":52,"lo":24,"hi":80},
    {"m":"hsa-miR-9901","g":"Normal","v":20,"lo":8,"hi":32},{"m":"hsa-miR-9901","g":"Tumour","v":340,"lo":128,"hi":552}
  ]
},
"vconcat": [
  {
    "hconcat": [
      {
        "hconcat": [
          {"width": 26, "height": 12, "data": {"values": [{"t": "A"}]}, "mark": {"type": "text", "fontSize": 19, "fontWeight": "bold", "color": "#000000"}, "encoding": {"text": {"field": "t"}}},
          {
            "vconcat": [
              {
                "width": 180, "height": 160,
                "title": {"text": "Principal components analysis bi-plot", "fontSize": 9.5, "fontWeight": "normal", "color": "#1A1A1A", "offset": 3, "frame": "group", "anchor": "middle"},
                "view": {"fill": "#EBEBEB"},
                "data": {"name": "pca"},
                "encoding": {
                  "x": {"field": "pc1", "type": "quantitative", "title": "PCA1,45.03%", "scale": {"domain": [-19.5, 21.3], "nice": false, "zero": false},
                        "axis": {"values": [-15,-10,-5,0,5,10,15,20], "labelExpr": "datum.value % 10 == 0 ? '' + datum.value : ''", "grid": true, "gridColor": "#FFFFFF", "gridWidth": {"condition": {"test": "datum.value % 10 != 0", "value": 0.5}, "value": 1}, "tickOpacity": {"condition": {"test": "datum.value % 10 != 0", "value": 0}, "value": 1}, "tickSize": 2.5, "labelFontSize": 8.5, "labelPadding": 1, "titleFontSize": 9.5, "titlePadding": 3, "labelFlush": false, "labelOverlap": false}},
                  "y": {"field": "pc2", "type": "quantitative", "title": "PCA2,11.57%", "scale": {"domain": [-24.6, 12.1], "nice": false, "zero": false},
                        "axis": {"values": [-20,-15,-10,-5,0,5,10], "labelExpr": "datum.value % 10 == 0 ? '' + datum.value : ''", "grid": true, "gridColor": "#FFFFFF", "gridWidth": {"condition": {"test": "datum.value % 10 != 0", "value": 0.5}, "value": 1}, "tickOpacity": {"condition": {"test": "datum.value % 10 != 0", "value": 0}, "value": 1}, "tickSize": 2.5, "labelFontSize": 8.5, "labelPadding": 1, "titleFontSize": 9.5, "titlePadding": 3, "labelFlush": false, "labelOverlap": false}}
                },
                "layer": [
                  {"mark": {"type": "circle", "size": 36, "opacity": 1},
                   "encoding": {"color": {"field": "Group", "type": "nominal", "scale": {"domain": ["Normal", "Turmour"], "range": ["#F8766D", "#00BFC4"]},
                     "legend": {"orient": "none", "legendX": 187, "legendY": 60, "title": "Group", "titleFontSize": 12, "labelFontSize": 9.5, "symbolSize": 50, "symbolType": "circle", "rowPadding": 0, "titlePadding": 4}}}},
                  {"mark": {"type": "text", "fontSize": 3.5, "align": "left", "dx": 3.5, "color": "#333333"}, "encoding": {"text": {"field": "id"}}}
                ]
              },
              {
                "width": 181, "height": 137,
                "layer": [
                  {"data": {"name": "hm"}, "mark": {"type": "rect"},
                   "encoding": {
                     "x": {"field": "c", "type": "ordinal", "axis": null},
                     "y": {"field": "r", "type": "ordinal", "axis": null},
                     "color": {"field": "v", "type": "quantitative",
                       "scale": {"domain": [-2.37, -1.58, -0.79, 0, 0.79, 1.58, 2.37], "range": ["#4575B4", "#91BFDB", "#E0F3F8", "#FFFFBF", "#FEE090", "#FC8D59", "#D73027"], "interpolate": "rgb"},
                       "legend": {"orient": "none", "legendX": 184, "legendY": 1, "title": null, "direction": "vertical", "gradientLength": 83, "gradientThickness": 6, "values": [-2, -1, 0, 1, 2], "labelExpr": "'' + datum.value", "labelFontSize": 8.5, "labelColor": "#333333", "gradientStrokeWidth": 0}}
                   }},
                  {"data": {"name": "ann"}, "mark": {"type": "rect"},
                   "encoding": {
                     "x": {"field": "c", "type": "ordinal", "axis": null},
                     "y": {"datum": "Group", "type": "nominal", "axis": null, "scale": {"range": [-8, -1], "paddingInner": 0, "paddingOuter": 0}},
                     "fill": {"field": "grp", "type": "nominal", "scale": {"domain": ["Normal", "Turmour"], "range": ["#1AD3DA", "#F7938B"]},
                       "legend": {"orient": "none", "legendX": 215, "legendY": -11, "title": "Group", "symbolType": "square", "symbolSize": 81, "titleFontSize": 12, "labelFontSize": 9.5, "rowPadding": 1, "symbolStrokeWidth": 0, "titlePadding": 5}}
                   }},
                  {"data": {"name": "dtop"},
                   "layer": [
                     {"mark": {"type": "rule", "color": "#8A8A8A", "strokeWidth": 0.7},
                      "encoding": {"x": {"field": "xa", "type": "quantitative", "axis": null, "scale": {"domain": [0, 10], "nice": false, "zero": false}}, "x2": {"field": "xb"},
                                   "y": {"field": "h", "type": "quantitative", "axis": null, "scale": {"domain": [0, 4], "range": [-8, -23], "nice": false, "zero": false}}}},
                     {"mark": {"type": "rule", "color": "#8A8A8A", "strokeWidth": 0.7},
                      "encoding": {"x": {"field": "xa", "type": "quantitative", "axis": null}, "y": {"field": "ha", "type": "quantitative", "axis": null}, "y2": {"field": "h"}}},
                     {"mark": {"type": "rule", "color": "#8A8A8A", "strokeWidth": 0.7},
                      "encoding": {"x": {"field": "xb", "type": "quantitative", "axis": null}, "y": {"field": "hb", "type": "quantitative", "axis": null}, "y2": {"field": "h"}}}
                   ]},
                  {"data": {"name": "dleft"},
                   "layer": [
                     {"mark": {"type": "rule", "color": "#444444", "strokeWidth": 0.6},
                      "encoding": {"x": {"field": "h", "type": "quantitative", "axis": null, "scale": {"domain": [0, 4], "range": [-1, -15], "nice": false, "zero": false}},
                                   "y": {"field": "a", "type": "quantitative", "axis": null, "scale": {"domain": [0, 36], "reverse": true, "nice": false, "zero": false}}, "y2": {"field": "b"}}},
                     {"mark": {"type": "rule", "color": "#444444", "strokeWidth": 0.6},
                      "encoding": {"x": {"field": "ha", "type": "quantitative", "axis": null}, "x2": {"field": "h"}, "y": {"field": "a", "type": "quantitative", "axis": null}}},
                     {"mark": {"type": "rule", "color": "#444444", "strokeWidth": 0.6},
                      "encoding": {"x": {"field": "hb", "type": "quantitative", "axis": null}, "x2": {"field": "h"}, "y": {"field": "b", "type": "quantitative", "axis": null}}}
                   ]}
                ],
                "resolve": {"scale": {"x": "independent", "y": "independent"}}
              }
            ],
            "bounds": "flush",
            "spacing": 58,
            "resolve": {"scale": {"color": "independent", "fill": "independent"}}
          }
        ],
        "spacing": 31,
        "resolve": {"scale": {"color": "independent", "fill": "independent"}}
      },
      {
        "hconcat": [
          {"width": 18, "height": 12, "data": {"values": [{"t": "B"}]}, "mark": {"type": "text", "fontSize": 19, "fontWeight": "bold", "color": "#000000"}, "encoding": {"text": {"field": "t"}}},
          {
            "vconcat": [
              {"width": 1, "height": 1, "data": {"values": []}, "mark": {"type": "point"}},
              {
                "width": 267, "height": 243,
                "view": {"stroke": "#8C8C8C", "strokeWidth": 1.3, "fill": "#FFFFFF"},
                "layer": [
                  {"data": {"values": [{"x": -1}, {"x": 1}]}, "mark": {"type": "rule", "color": "#8FC28F", "strokeDash": [2, 2], "strokeWidth": 1},
                   "encoding": {"x": {"field": "x", "type": "quantitative", "title": "log2(Fold Change)", "scale": {"domain": [-9.1, 9.1], "nice": false, "zero": false},
                     "axis": {"values": [-5, 0, 5], "labelExpr": "'' + datum.value", "tickSize": 3, "tickColor": "#555555", "labelFontSize": 11.5, "labelPadding": 1, "titleFontSize": 12.5, "titlePadding": 3, "labelFlush": false}}}},
                  {"data": {"values": [{"y": 1.301}]}, "mark": {"type": "rule", "color": "#8FC28F", "strokeDash": [2, 2], "strokeWidth": 1},
                   "encoding": {"y": {"field": "y", "type": "quantitative", "title": "-log10(PValue)", "scale": {"domain": [-1.6, 33.1], "nice": false, "zero": false},
                     "axis": {"values": [0, 10, 20, 30], "labelExpr": "'' + datum.value", "tickSize": 2.5, "tickColor": "#555555", "labelFontSize": 11.5, "labelPadding": 1, "titleFontSize": 12.5, "titlePadding": 4, "labelFlush": false}}}},
                  {"data": {"name": "volcano"}, "mark": {"type": "circle", "size": 9, "opacity": 1},
                   "encoding": {
                     "x": {"field": "x", "type": "quantitative", "title": "log2(Fold Change)", "scale": {"domain": [-9.1, 9.1], "nice": false, "zero": false},
                       "axis": {"values": [-5, 0, 5], "labelExpr": "'' + datum.value", "tickSize": 3, "tickColor": "#555555", "labelFontSize": 11.5, "labelPadding": 1, "titleFontSize": 12.5, "titlePadding": 3, "labelFlush": false}},
                     "y": {"field": "y", "type": "quantitative", "title": "-log10(PValue)", "scale": {"domain": [-1.6, 33.1], "nice": false, "zero": false},
                       "axis": {"values": [0, 10, 20, 30], "labelExpr": "'' + datum.value", "tickSize": 2.5, "tickColor": "#555555", "labelFontSize": 11.5, "labelPadding": 1, "titleFontSize": 12.5, "titlePadding": 4, "labelFlush": false}},
                     "color": {"field": "g", "type": "nominal", "scale": {"domain": ["down", "up", "nosig"], "range": ["#00CD00", "#FF0000", "#000000"]},
                       "legend": {"orient": "top", "direction": "horizontal", "title": null, "labelFontSize": 12, "symbolSize": 10, "symbolType": "circle", "columnPadding": 12, "offset": 12, "labelOffset": 3}}
                   }},
                  {"data": {"name": "volcano"}, "transform": [{"filter": "isValid(datum.lab)"}],
                   "mark": {"type": "text", "fontSize": 9, "dy": 8, "color": "#333333"},
                   "encoding": {
                     "x": {"field": "x", "type": "quantitative"},
                     "y": {"field": "y", "type": "quantitative"},
                     "text": {"field": "lab"}
                   }}
                ]
              }
            ],
            "spacing": 30,
            "resolve": {"scale": {"color": "independent", "fill": "independent"}}
          }
        ],
        "spacing": 15,
        "resolve": {"scale": {"color": "independent", "fill": "independent"}}
      }
    ],
    "spacing": 24,
    "resolve": {"scale": {"color": "independent", "fill": "independent"}}
  },
  {
    "hconcat": [
      {
        "vconcat": [
          {
            "width": 348, "height": 60,
            "data": {"name": "venn"},
            "encoding": {
              "x": {"field": "u", "type": "quantitative", "axis": null, "scale": {"domain": [-1.282, 1.319], "nice": false, "zero": false}},
              "y": {"field": "v", "type": "quantitative", "axis": null, "scale": {"domain": [-0.284, 0.1644], "nice": false, "zero": false}}
            },
            "layer": [
              {"transform": [{"filter": "datum.k == 1"}], "mark": {"type": "point", "shape": "M -1 0 A 1 0.456 0 1 0 1 0 A 1 0.456 0 1 0 -1 0 Z", "size": 71610, "filled": true, "fill": "#BCE1E4", "stroke": "#8DB1B5", "strokeWidth": 1, "opacity": 1}},
              {"transform": [{"filter": "datum.k == 2"}], "mark": {"type": "point", "shape": "M -1 0 A 1 0.365 0 1 0 1 0 A 1 0.365 0 1 0 -1 0 Z", "size": 40000, "filled": true, "fill": "#72C0C6", "stroke": "#8AA9AC", "strokeWidth": 1, "opacity": 1}},
              {"transform": [{"filter": "datum.k == 3"}], "mark": {"type": "point", "shape": "M -1 0 A 1 0.251 0 1 0 1 0 A 1 0.251 0 1 0 -1 0 Z", "size": 21316, "filled": true, "fill": "#3A8B92", "stroke": "#6F9FA3", "strokeWidth": 1, "opacity": 1}},
              {"transform": [{"filter": "datum.k == 4"}], "mark": {"type": "point", "shape": "M -1 0 A 1 0.425 0 1 0 1 0 A 1 0.425 0 1 0 -1 0 Z", "size": 4984, "filled": true, "fill": "#D4D4EF", "stroke": "#9AA8B8", "strokeWidth": 1, "opacity": 1}},
              {"mark": {"type": "text", "fontSize": 15, "color": "#1A1A1A"}, "encoding": {"x": {"field": "tu", "type": "quantitative"}, "text": {"field": "n"}}}
            ]
          },
          {
            "hconcat": [
              {
                "width": 288, "height": 133,
                "data": {"name": "tbl"},
                "layer": [
                  {"mark": {"type": "rect"},
                   "encoding": {"y": {"field": "row", "type": "ordinal", "axis": null, "scale": {"paddingInner": 0.08, "paddingOuter": 0}},
                                "fill": {"field": "row", "type": "ordinal", "legend": null, "scale": {"domain": [1, 2, 3, 4], "range": ["#B3DBDE", "#DCEDEF", "#EDF6F7", "#DCEDEF"]}}}},
                  {"mark": {"type": "text", "align": "left", "dx": 9, "fontSize": 11.5, "lineBreak": "\n", "lineHeight": 12.5, "color": "#222222"},
                   "encoding": {"y": {"field": "row", "type": "ordinal", "axis": null}, "x": {"datum": 0, "type": "quantitative", "axis": null, "scale": {"domain": [0, 1]}}, "text": {"field": "label"}}}
                ]
              },
              {
                "width": 58, "height": 133,
                "data": {"name": "tbl"},
                "layer": [
                  {"mark": {"type": "rect"},
                   "encoding": {"y": {"field": "row", "type": "ordinal", "axis": null, "scale": {"paddingInner": 0.08, "paddingOuter": 0}},
                                "fill": {"field": "row", "type": "ordinal", "legend": null, "scale": {"domain": [1, 2, 3, 4], "range": ["#B3DBDE", "#DCEDEF", "#EDF6F7", "#DCEDEF"]}}}},
                  {"mark": {"type": "text", "fontSize": 11.5, "color": "#222222"},
                   "encoding": {"y": {"field": "row", "type": "ordinal", "axis": null}, "text": {"field": "num"}}}
                ]
              }
            ],
            "spacing": 2
          }
        ],
        "spacing": 15,
        "resolve": {"scale": {"color": "independent", "fill": "independent"}},
        "title": {"text": "C", "anchor": "start", "frame": "bounds", "fontSize": 17, "fontWeight": "bold", "offset": 7, "dx": 5}
      },
      {
        "width": 287, "height": 150,
        "title": {"text": "D", "anchor": "start", "frame": "bounds", "fontSize": 17, "fontWeight": "bold", "offset": -3},
        "view": {"fill": "#EBEBEB"},
        "data": {"name": "bars"},
        "encoding": {
          "x": {"field": "m", "type": "nominal", "sort": null, "title": null, "scale": {"paddingInner": 0.1, "paddingOuter": 0.15},
                "axis": {"labelAngle": -70, "labelFontSize": 9, "labelColor": "#4D4D4D", "grid": true, "gridColor": "#FFFFFF", "gridWidth": 1, "bandPosition": 0.5, "tickSize": 2, "labelPadding": 1}},
          "xOffset": {"field": "g", "type": "nominal", "scale": {"domain": ["Normal", "Tumour"]}}
        },
        "layer": [
          {"mark": {"type": "bar"},
           "encoding": {
             "y": {"field": "v", "type": "quantitative", "title": null, "scale": {"domain": [-85, 1705], "nice": false, "zero": false},
                   "axis": {"values": [0, 250, 500, 750, 1000, 1250, 1500], "labelExpr": "datum.value % 500 == 0 ? '' + datum.value : ''", "grid": true, "gridColor": "#FFFFFF", "gridWidth": {"condition": {"test": "datum.value % 500 != 0", "value": 0.5}, "value": 1}, "tickOpacity": {"condition": {"test": "datum.value % 500 != 0", "value": 0}, "value": 1}, "tickSize": 2, "labelFontSize": 9.5, "labelPadding": 1, "labelOverlap": false}},
             "y2": {"datum": 0},
             "color": {"field": "g", "type": "nominal", "scale": {"domain": ["Normal", "Tumour"], "range": ["#F8766D", "#00BFC4"]},
               "legend": {"orient": "none", "legendX": 293, "legendY": 57, "title": "Group", "titleFontSize": 12, "labelFontSize": 9.5, "symbolType": "square", "symbolSize": 72, "rowPadding": 1, "titlePadding": 5, "symbolStrokeWidth": 0}}
           }},
          {"mark": {"type": "rule", "color": "#333333", "opacity": 0.6, "strokeWidth": 1},
           "encoding": {"y": {"field": "lo", "type": "quantitative"}, "y2": {"field": "hi"}}},
          {"mark": {"type": "tick", "orient": "horizontal", "size": 3, "thickness": 1, "color": "#333333", "opacity": 0.7},
           "encoding": {"y": {"field": "hi", "type": "quantitative"}}},
          {"mark": {"type": "tick", "orient": "horizontal", "size": 3, "thickness": 1, "color": "#333333", "opacity": 0.7},
           "encoding": {"y": {"field": "lo", "type": "quantitative"}}}
        ]
      }
    ],
    "spacing": 40,
    "resolve": {"scale": {"color": "independent", "fill": "independent"}}
  }
],
"spacing": 35,
"resolve": {"scale": {"color": "independent", "fill": "independent"}}
}
